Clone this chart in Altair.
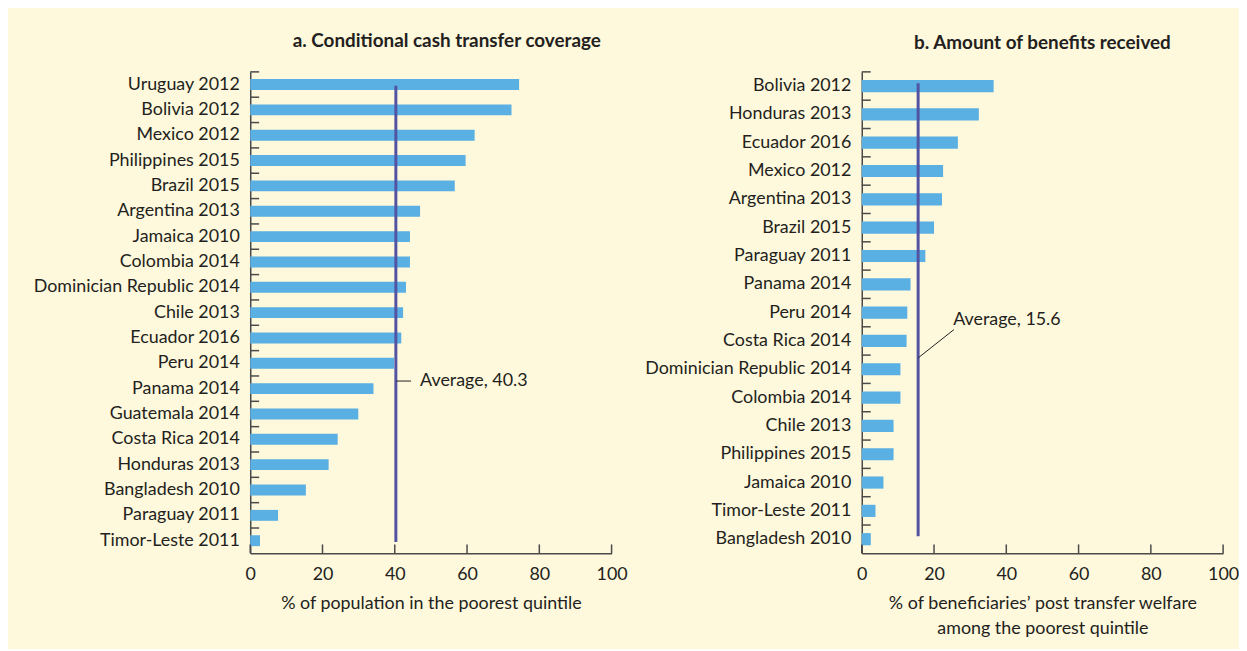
import altair as alt
import pandas as pd

# ---------------- data ----------------
cov_countries = [
    "Uruguay 2012", "Bolivia 2012", "Mexico 2012", "Philippines 2015", "Brazil 2015",
    "Argentina 2013", "Jamaica 2010", "Colombia 2014", "Dominician Republic 2014",
    "Chile 2013", "Ecuador 2016", "Peru 2014", "Panama 2014", "Guatemala 2014",
    "Costa Rica 2014", "Honduras 2013", "Bangladesh 2010", "Paraguay 2011", "Timor-Leste 2011",
]
cov_values = [74.4, 72.3, 62.1, 59.6, 56.6, 47.0, 44.2, 44.2, 43.1, 42.3,
              41.8, 39.8, 34.1, 29.9, 24.2, 21.7, 15.4, 7.7, 2.7]
cov_avg = 40.3

ben_countries = [
    "Bolivia 2012", "Honduras 2013", "Ecuador 2016", "Mexico 2012", "Argentina 2013",
    "Brazil 2015", "Paraguay 2011", "Panama 2014", "Peru 2014", "Costa Rica 2014",
    "Dominician Republic 2014", "Colombia 2014", "Chile 2013", "Philippines 2015",
    "Jamaica 2010", "Timor-Leste 2011", "Bangladesh 2010",
]
ben_values = [36.5, 32.4, 26.6, 22.5, 22.2, 20.0, 17.6, 13.5, 12.6, 12.4,
              10.7, 10.7, 8.8, 8.8, 6.0, 3.8, 2.5]
ben_avg = 15.6

x_ticks = [0, 20, 40, 60, 80, 100]

title_a = "a. Conditional cash transfer coverage"
title_b = "b. Amount of benefits received"
xtitle_a = "% of population in the poorest quintile"
xtitle_b = ["% of beneficiaries\u2019 post transfer welfare", "among the poorest quintile"]

# ---------------- styles ----------------
FONT = "Lato"
TXT = "#231f20"
BG = "#fef8dc"
BAR = "#5aafe3"
AVG = "#5254a3"
AXC = "#4a4a4a"
PW = 364
PH = 485
LABEL_FS = 18


def panel(countries, values, avg, title, xtitle, title_dx, title_dy,
          avg_span_pos, label_text, label_row, label_pos, label_x,
          leader_rows, leader_x, leader_pos):
    yscale = alt.Scale(domain=countries, paddingInner=0, paddingOuter=0)
    xscale = alt.Scale(domain=[0, 100], nice=False, zero=True)
    yaxis = alt.Axis(title=None, ticks=False, labelPadding=11, labelFontSize=LABEL_FS,
                     labelFont=FONT, labelColor=TXT, domainColor=AXC, domainWidth=1.5,
                     minExtent=226, maxExtent=226, labelLimit=400)
    xaxis = alt.Axis(title=xtitle, values=x_ticks, ticks=False, labelPadding=12,
                     labelFlush=False,
                     labelFontSize=LABEL_FS, labelFont=FONT, labelColor=TXT,
                     titleFont=FONT, titleFontSize=LABEL_FS, titleFontWeight="normal",
                     titleColor=TXT, titlePadding=12, titleLineHeight=25,
                     domainColor=AXC, domainWidth=1.5, grid=False)

    def X(**kw):
        return alt.X("value:Q", scale=xscale, axis=xaxis, **kw)

    def Y(pos=0.5):
        return alt.Y("country:N", scale=yscale, axis=yaxis, bandPosition=pos)

    df = pd.DataFrame({"country": countries, "value": values})
    bars = alt.Chart(df).mark_bar(color=BAR, height=alt.RelativeBandSize(0.43)).encode(
        x=X(), y=alt.Y("country:N", scale=yscale, axis=yaxis)
    )

    ytick = alt.Chart(df).mark_rule(color=AXC, strokeWidth=1.5).encode(
        y=Y(0), x=alt.value(0), x2=alt.value(9)
    )

    xt = pd.DataFrame({"value": x_ticks})
    xtick = alt.Chart(xt).mark_rule(color=AXC, strokeWidth=1.5).encode(
        x=X(), y=alt.value(PH), y2=alt.value(PH - 9)
    )

    adf = pd.DataFrame({"country": [countries[0], countries[-1]], "value": [avg, avg]})
    avg_line = alt.Chart(adf).mark_line(color=AVG, strokeWidth=3).encode(
        x=X(), y=Y(avg_span_pos)
    )

    ldf = pd.DataFrame({"country": leader_rows, "value": leader_x})
    leader = alt.Chart(ldf).mark_line(color=TXT, strokeWidth=1).encode(
        x=X(), y=Y(leader_pos)
    )

    tdf = pd.DataFrame({"country": [label_row], "value": [label_x], "label": [label_text]})
    label = alt.Chart(tdf).mark_text(align="left", baseline="middle", font=FONT,
                                     fontSize=LABEL_FS, color=TXT).encode(
        x=X(), y=Y(label_pos), text="label:N"
    )

    return alt.layer(bars, avg_line, leader, label, ytick, xtick).properties(
        width=PW, height=PH,
        title=alt.TitleParams(title, font=FONT, fontSize=19, fontWeight="bold",
                              color=TXT, anchor="middle", dx=title_dx, dy=title_dy,
                              offset=20),
    )


pa = panel(cov_countries, cov_values, cov_avg, title_a, xtitle_a, 16, 0,
           0.55, "Average, 40.3", "Panama 2014", 0.2, 47.0,
           ["Panama 2014", "Panama 2014"], [40.4, 44.5], 0.2)
pb = panel(ben_countries, ben_values, ben_avg, title_b, xtitle_b, 0, 2,
           0.4, "Average, 15.6", "Peru 2014", 0.77, 25.3,
           ["Dominician Republic 2014", "Costa Rica 2014"], [15.6, 25.5], 0.1)

chart = alt.hconcat(pa, pb, spacing=10).properties(
    background=BG,
    padding={"left": 18, "top": 22, "right": 0, "bottom": 9},
).configure_view(stroke=None)

chart.save("out.html", embed_options={"renderer": "svg", "actions": False})
